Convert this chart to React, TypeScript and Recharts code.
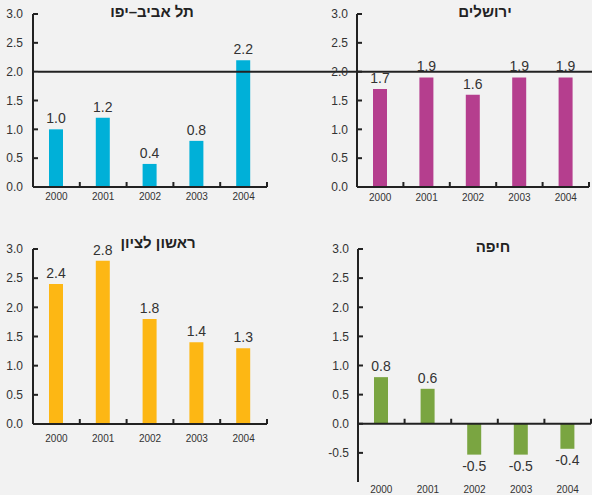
import React from 'react';
import { BarChart, Bar, XAxis, YAxis, ReferenceLine, LabelList } from 'recharts';

// data
const years = ['2000', '2001', '2002', '2003', '2004'];
const telAviv = [1.0, 1.2, 0.4, 0.8, 2.2];
const jerusalem = [1.7, 1.9, 1.6, 1.9, 1.9];
const rishon = [2.4, 2.8, 1.8, 1.4, 1.3];
const haifa = [0.8, 0.6, -0.53, -0.53, -0.43];
const posTicks = [0, 0.5, 1, 1.5, 2, 2.5, 3];
const haifaTicks = [-0.5, 0, 0.5, 1, 1.5, 2, 2.5, 3];
const benchmark = 2.0;

const AXIS = '#222';
const TEXT = '#333';
const BG = '#f2f2f2';
const W = 592;
const H = 495;

const toRows = (vals: number[]) => years.map((year, i) => ({ year, value: vals[i] }));

// x axis drawn as a reference line at zero, with inward ticks between categories
const CategoryAxisLine = (props: any) => {
  const { x1, x2, y1 } = props;
  const step = (x2 - x1) / years.length;
  return (
    <g>
      <line x1={x1} x2={x2} y1={y1} y2={y1} stroke={AXIS} strokeWidth={2} />
      {years.map((_, i) => (
        <line key={i} x1={x1 + step * (i + 1)} x2={x1 + step * (i + 1)} y1={y1} y2={y1 - 5} stroke={AXIS} strokeWidth={2} />
      ))}
    </g>
  );
};

type PanelProps = {
  values: number[];
  color: string;
  domain: [number, number];
  ticks: number[];
  top: number;
  width: number;
  height: number;
  margin: { top: number; right: number; bottom: number; left: number };
  yGap: number;
  xGap: number;
  xHeight: number;
  children?: React.ReactNode;
};

function Panel({ values, color, domain, ticks, top, width, height, margin, yGap, xGap, xHeight, children }: PanelProps) {
  return (
    <div style={{ position: 'absolute', left: 0, top, width, height }}>
      <BarChart width={width} height={height} data={toRows(values)} margin={margin}>
        <XAxis
          dataKey="year"
          axisLine={false}
          tickLine={false}
          tickSize={0}
          tickMargin={xGap}
          height={xHeight}
          interval={0}
          tick={{ fontSize: 10, fill: TEXT }}
        />
        <YAxis
          domain={domain}
          ticks={ticks}
          interval={0}
          width={33}
          tickSize={-5}
          tickMargin={yGap}
          tickFormatter={(v: number) => v.toFixed(1)}
          axisLine={{ stroke: AXIS, strokeWidth: 2 }}
          tickLine={{ stroke: AXIS, strokeWidth: 2 }}
          tick={{ fontSize: 12, fill: TEXT }}
        />
        <Bar dataKey="value" fill={color} barSize={14} isAnimationActive={false}>
          <LabelList
            dataKey="value"
            position="top"
            offset={6}
            formatter={(v: any) => Number(v).toFixed(1)}
            style={{ fontSize: 14, fill: TEXT }}
          />
        </Bar>
        <ReferenceLine y={0} shape={CategoryAxisLine} />
        {children}
      </BarChart>
    </div>
  );
}

const titleStyle = (cx: number, top: number): React.CSSProperties => ({
  position: 'absolute',
  left: cx - 100,
  top,
  width: 200,
  textAlign: 'center',
  direction: 'rtl',
  fontSize: 15,
  fontWeight: 'bold',
  lineHeight: '18px',
  color: AXIS,
});

export default function App() {
  return (
    <div
      style={{
        position: 'absolute',
        left: 0,
        top: 0,
        width: W,
        height: H,
        overflow: 'hidden',
        background: BG,
        fontFamily: '"Liberation Sans", Arial, sans-serif',
      }}
    >
      {/* Tel Aviv-Yafo */}
      <Panel
        values={telAviv}
        color="#00b0d8"
        domain={[0, 3]}
        ticks={posTicks}
        top={0}
        width={292}
        height={215}
        margin={{ top: 14, right: 25, bottom: 8, left: 0 }}
        yGap={15}
        xGap={6}
        xHeight={20}
      />
      {/* Jerusalem, full width so the 2.0 line can run across both top panels */}
      <Panel
        values={jerusalem}
        color="#b53e8e"
        domain={[0, 3]}
        ticks={posTicks}
        top={0}
        width={W}
        height={215}
        margin={{ top: 14, right: 3, bottom: 8, left: 324 }}
        yGap={14}
        xGap={7}
        xHeight={20}
      >
        <ReferenceLine
          y={benchmark}
          shape={(p: any) => (
            <line x1={38} x2={W} y1={p.y1} y2={p.y1} stroke={AXIS} strokeWidth={2} />
          )}
        />
      </Panel>
      {/* Rishon LeZion */}
      <Panel
        values={rishon}
        color="#fdb714"
        domain={[0, 3]}
        ticks={posTicks}
        top={235}
        width={292}
        height={230}
        margin={{ top: 14, right: 25, bottom: 16, left: 0 }}
        yGap={15}
        xGap={11}
        xHeight={25}
      />
      {/* Haifa */}
      <Panel
        values={haifa}
        color="#7aa541"
        domain={[-1, 3]}
        ticks={haifaTicks}
        top={240}
        width={W}
        height={255}
        margin={{ top: 9, right: 1, bottom: 0, left: 325 }}
        yGap={14}
        xGap={4}
        xHeight={13}
      />

      <div style={titleStyle(152, 3)}>תל אביב–יפו</div>
      <div style={titleStyle(485, 3)}>ירושלים</div>
      <div style={titleStyle(158, 234)}>ראשון לציון</div>
      <div style={titleStyle(493, 238)}>חיפה</div>
    </div>
  );
}
